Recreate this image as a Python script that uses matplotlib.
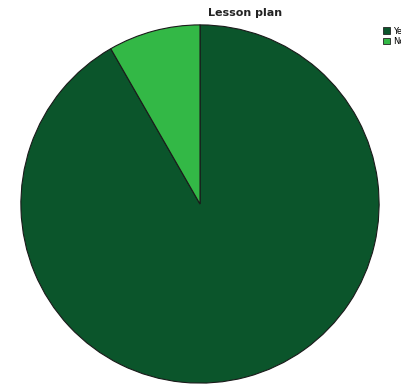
import matplotlib
matplotlib.use("Agg")
import matplotlib.pyplot as plt
from matplotlib.patches import Patch

labels = ["Yes", "No"]
values = [91.7, 8.3]
colors = ["#0b552b", "#33b846"]

fig = plt.figure(figsize=(4.02, 3.85), dpi=100)
ax = fig.add_axes([20/402, 1/385, 360/402, 360/385])
ax.pie(values, colors=colors, startangle=90, counterclock=False,
       wedgeprops=dict(edgecolor="#1a1a1a", linewidth=0.8))
ax.set_xlim(-1.005, 1.005)
ax.set_ylim(-1.005, 1.005)
ax.set_aspect("equal")
ax.axis("off")

fig.text(245/402, 1 - 13/385, "Lesson plan", ha="center", va="center",
         fontsize=8, fontweight="bold", color="#222222")

handles = [Patch(facecolor=c, edgecolor="#222222", linewidth=0.6) for c in colors]
fig.legend(handles, labels, loc="upper left", bbox_to_anchor=(381/402, 1 - 25/385),
           frameon=False, fontsize=6, handlelength=0.9, handleheight=0.9,
           handletextpad=0.4, labelspacing=0.15, borderpad=0.2, borderaxespad=0)

fig.savefig("out.png", dpi=100)
